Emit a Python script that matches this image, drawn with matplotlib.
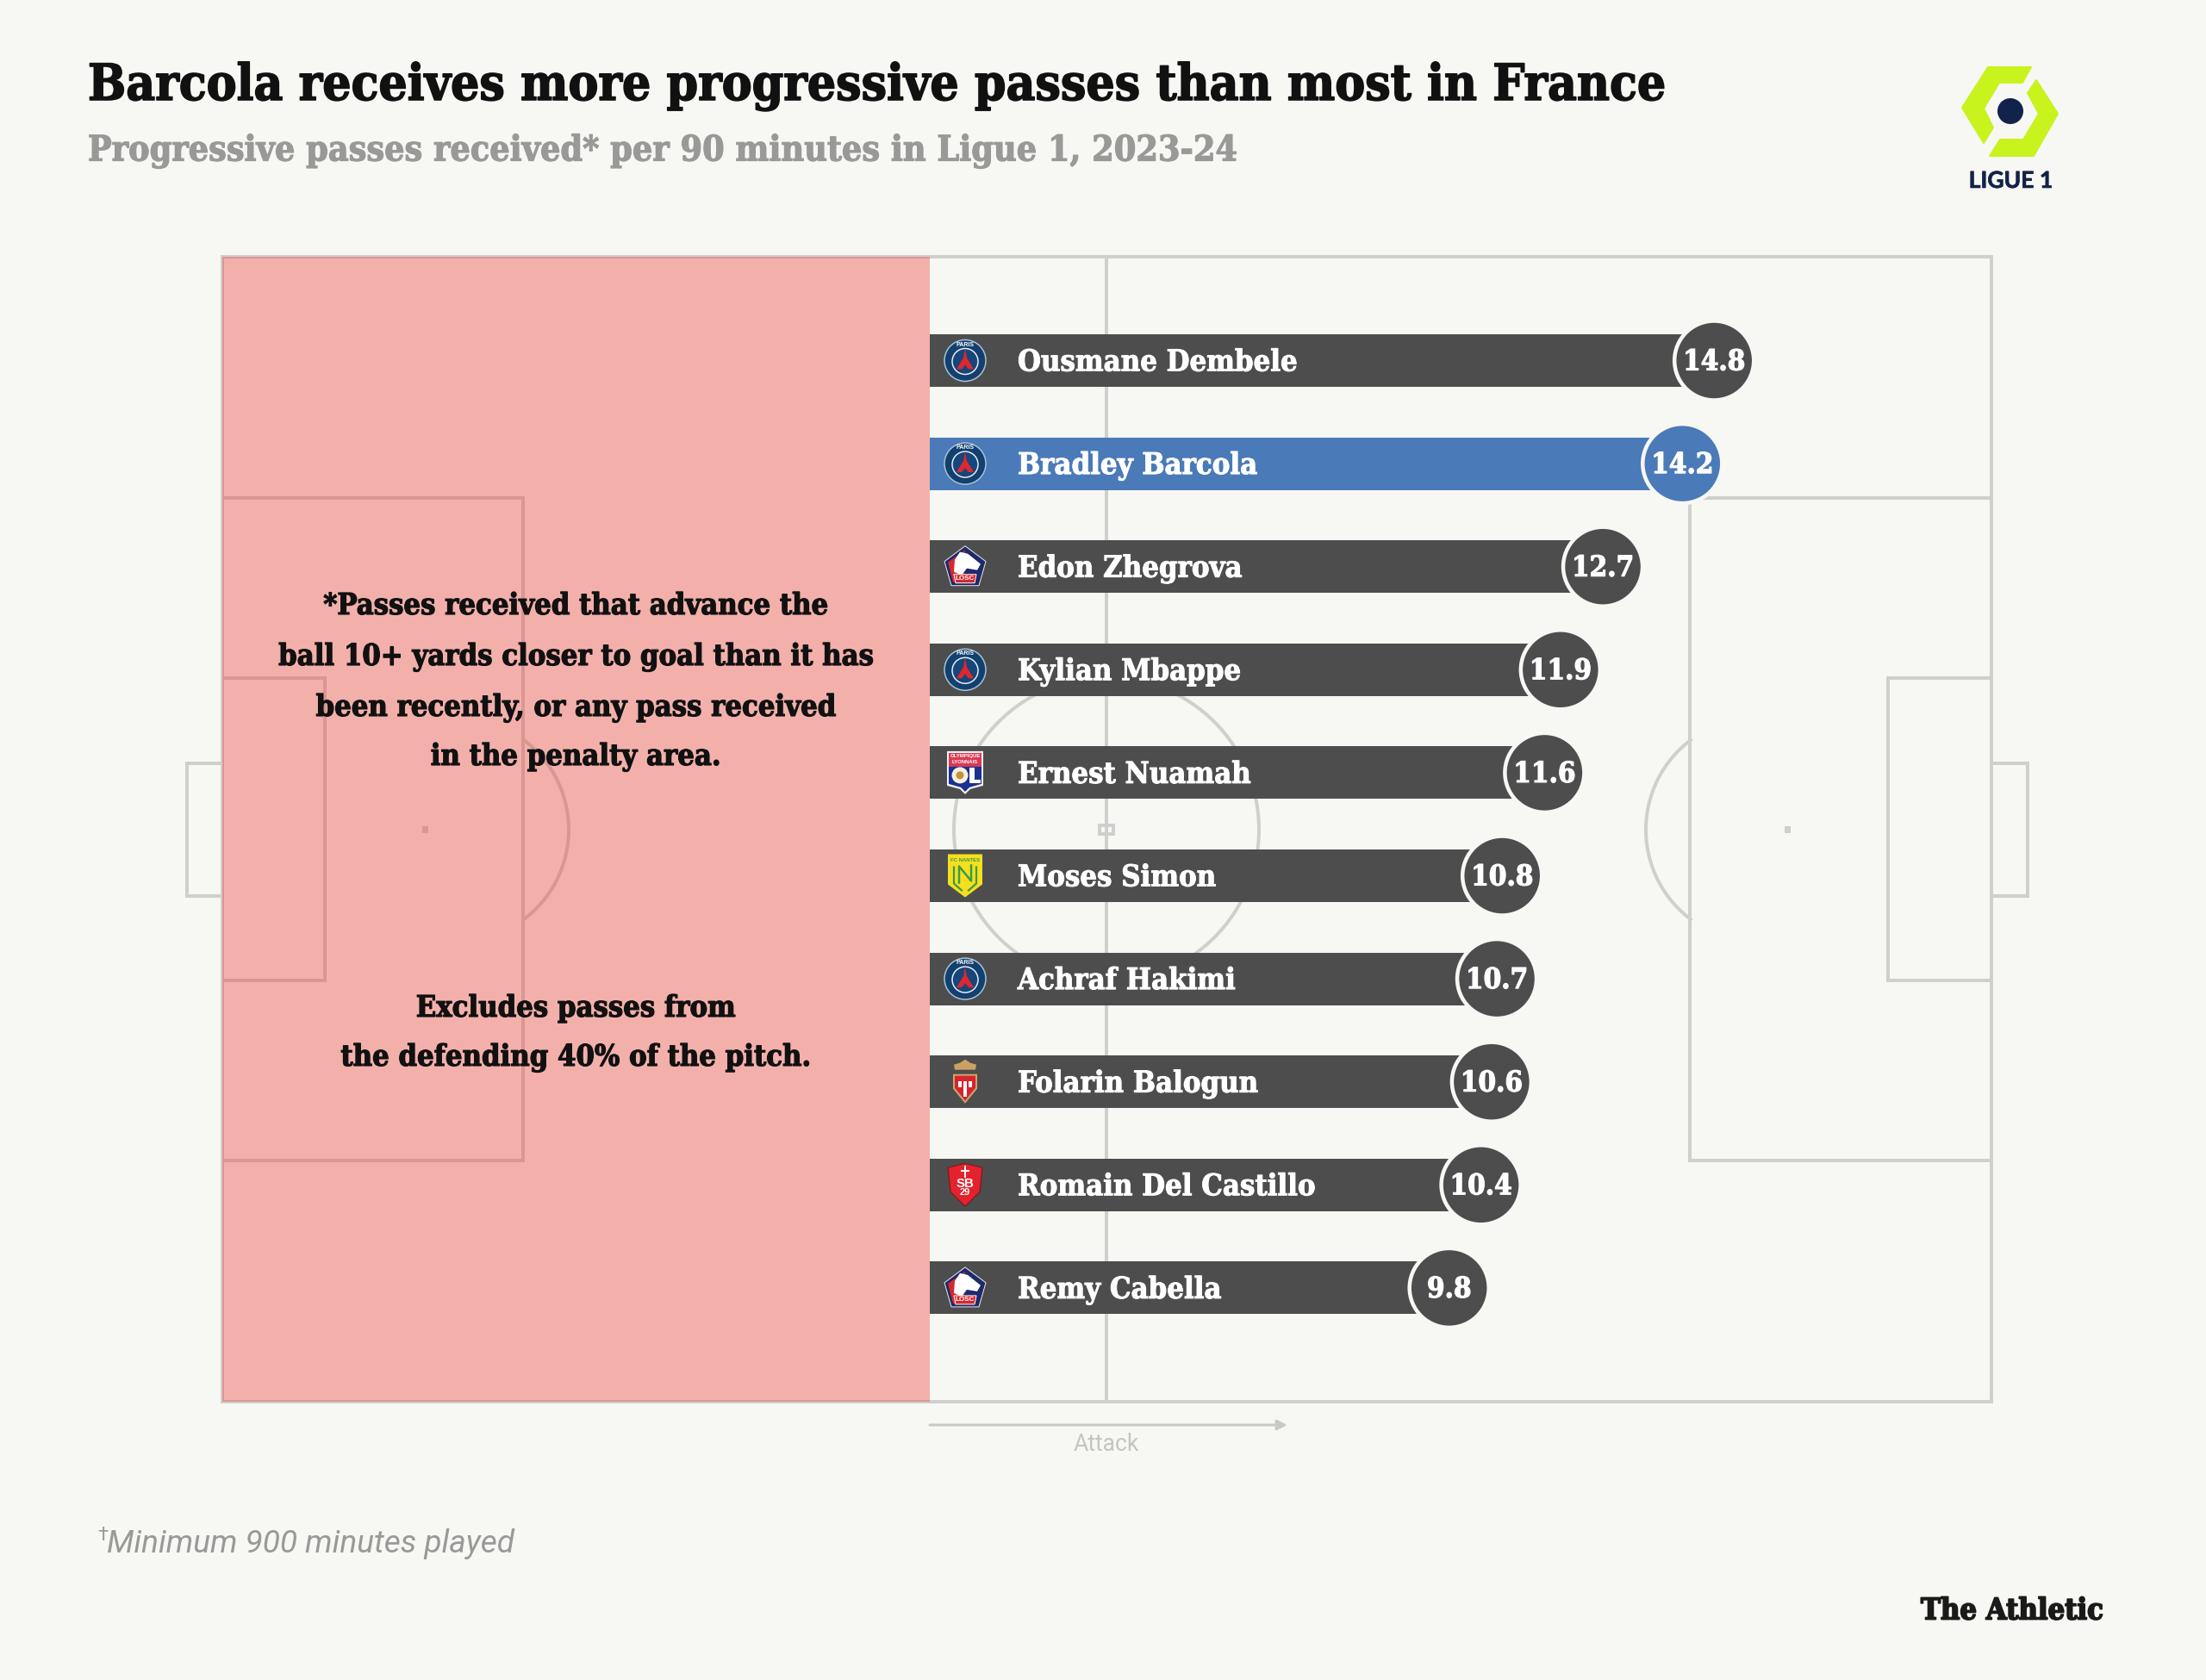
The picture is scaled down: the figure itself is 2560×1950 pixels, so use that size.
import numpy as np
import matplotlib
matplotlib.use("Agg")
import matplotlib.pyplot as plt
import matplotlib.patheffects as pe
from matplotlib.patches import Rectangle, Circle, Polygon, Arc, FancyArrowPatch

players = ["Ousmane Dembele", "Bradley Barcola", "Edon Zhegrova", "Kylian Mbappe", "Ernest Nuamah",
           "Moses Simon", "Achraf Hakimi", "Folarin Balogun", "Romain Del Castillo", "Remy Cabella"]
values = [14.8, 14.2, 12.7, 11.9, 11.6, 10.8, 10.7, 10.6, 10.4, 9.8]
clubs = ["psg", "psg", "lille", "psg", "lyon", "nantes", "psg", "monaco", "brest", "lille"]
highlight = "Bradley Barcola"

title = "Barcola receives more progressive passes than most in France"
subtitle = "Progressive passes received* per 90 minutes in Ligue 1, 2023-24"
note_one = ["*Passes received that advance the", "ball 10+ yards closer to goal than it has",
            "been recently, or any pass received", "in the penalty area."]
note_two = ["Excludes passes from", "the defending 40% of the pitch."]
footnote = "Minimum 900 minutes played"

BG = "#f7f7f3"
DARK = "#4d4d4d"
BLUE = "#4a7ab8"
LINE = "#cfcfcd"
SLAB = {"family": "DejaVu Serif", "stretch": "condensed", "weight": "bold"}
W, H = 2560, 1950
pt = lambda px: px * 0.72


def heavy(px, color):
    return {"path_effects": [pe.withStroke(linewidth=pt(px), foreground=color)]}


fig = plt.figure(figsize=(W / 100, H / 100), dpi=100, facecolor=BG)


def pixel_axes(z):
    a = fig.add_axes([0, 0, 1, 1], zorder=z)
    a.set_xlim(0, W)
    a.set_ylim(H, 0)
    a.axis("off")
    return a


base = pixel_axes(1)
lw = pt(4)


def box(x0, y0, x1, y1):
    base.add_patch(Rectangle((x0, y0), x1 - x0, y1 - y0, fill=False, ec=LINE, lw=lw))


box(258, 298, 2311, 1627)
box(258, 578, 607, 1347)
box(258, 787, 377, 1138)
box(217, 886, 258, 1040)
box(1961, 578, 2311, 1347)
box(2191, 787, 2311, 1138)
box(2311, 886, 2353, 1040)
base.plot([1284, 1284], [298, 1627], color=LINE, lw=lw)
base.add_patch(Circle((1284, 963), 177, fill=False, ec=LINE, lw=lw))
base.add_patch(Rectangle((1276, 958), 16, 10, fill=False, ec=LINE, lw=lw))
base.add_patch(Rectangle((490, 959), 7, 8, color=LINE, lw=0))
base.add_patch(Rectangle((2071, 959), 7, 8, color=LINE, lw=0))
base.add_patch(Arc((530, 963), 260, 260, theta1=-54, theta2=54, ec=LINE, lw=lw))
base.add_patch(Arc((2040, 963), 260, 260, theta1=126, theta2=234, ec=LINE, lw=lw))
base.add_patch(Rectangle((258, 298), 821, 1329, fc="#ee2c26", alpha=0.35, ec="none"))

# bars: x is the value, y the rank
PX_PER_UNIT = 61.5
bars = fig.add_axes([1079 / W, 0, (W - 1079) / W, 1], zorder=2)
bars.patch.set_alpha(0)
bars.axis("off")
bars.set_xlim(0, (W - 1079) / PX_PER_UNIT)
SPACING = 119.6
bars.set_ylim((H - 418.5) / SPACING, -418.5 / SPACING)
ranks = np.arange(len(players))
cols = [BLUE if p == highlight else DARK for p in players]
bars.barh(ranks, values, height=61 / SPACING, color=cols, linewidth=0)
bars.scatter(values, ranks, s=pt(92) ** 2, c=cols, edgecolors=BG, linewidths=pt(4.5), zorder=3, clip_on=False)
for r, (p, v) in enumerate(zip(players, values)):
    bars.annotate(f"{v}", (v, r), xytext=(0, pt(2)), textcoords="offset points", color="white", ha="center",
                  va="center_baseline", fontsize=pt(33), zorder=4, **SLAB, **heavy(1.2, "white"))
    bars.annotate(p, (0, r), xytext=(pt(102), pt(1)), textcoords="offset points", color="white",
                  ha="left", va="center_baseline", fontsize=pt(34.4), zorder=4, **SLAB, **heavy(1.0, "white"))

top = pixel_axes(3)


def poly(pts, cx, cy, **kw):
    top.add_patch(Polygon([(cx + a, cy + b) for a, b in pts], closed=True, **kw))


def tiny(cx, cy, s, px, color="white"):
    top.text(cx, cy, s, ha="center", va="center", color=color, fontsize=pt(px), family="Liberation Sans", weight="bold")


def psg(cx, cy):
    top.add_patch(Circle((cx, cy), 24, fc="#12406f", ec="#a9c3d6", lw=pt(1.5)))
    top.add_patch(Circle((cx, cy + 1), 15, fc="#16467a", ec="#e8eef2", lw=pt(1.5)))
    poly([(0, -14), (2, -3), (10, 10), (4, 10), (0, 5), (-4, 10), (-10, 10), (-2, -3)], cx, cy, fc="#e0262e", ec="none")
    tiny(cx, cy - 18.5, "PARIS", 7)


def lille(cx, cy):
    poly([(0, -24), (24, -6), (16, 22), (-16, 22), (-24, -6)], cx, cy, fc="#1d2a6b", ec="#e8e8e8", lw=pt(1))
    poly([(0, -19), (-20, -5), (-14, 18), (-2, 18)], cx, cy, fc="#d7282f", ec="none")
    poly([(-6, -17), (3, -15), (18, -3), (14, 4), (2, 2), (-4, 10), (-13, 6), (-12, -8)], cx, cy, fc="white", ec="none")
    poly([(-13, 9), (13, 9), (11, 19), (-11, 19)], cx, cy, fc="#d7282f", ec="white", lw=pt(1))
    tiny(cx, cy + 14, "LOSC", 8)


def lyon(cx, cy):
    poly([(-21, -25), (21, -25), (21, 15), (6, 19), (0, 25), (-6, 19), (-21, 15)], cx, cy, fc="#f3f3f3", ec="none")
    poly([(-19, -23), (19, -23), (19, -7), (-19, -7)], cx, cy, fc="#d93a54", ec="none")
    poly([(-19, -7), (19, -7), (19, 13), (5, 17), (0, 22), (-5, 17), (-19, 13)], cx, cy, fc="#1c2f92", ec="none")
    top.add_patch(Circle((cx - 6, cy + 3), 9.5, fc="#f5f0e0", ec="none"))
    top.add_patch(Circle((cx - 6, cy + 3), 4.5, fc="#c98f3a", ec="none"))
    poly([(5, -6), (11, -6), (11, 8), (18, 8), (18, 12), (5, 12)], cx, cy, fc="white", ec="none")
    tiny(cx, cy - 19, "OLYMPIQUE", 6)
    tiny(cx, cy - 12, "LYONNAIS", 6)


def nantes(cx, cy):
    poly([(-20, -25), (20, -25), (20, 10), (0, 25), (-20, 10)], cx, cy, fc="#f5df1e", ec="none")
    g = "#3b9b46"
    top.plot([cx - 13, cx - 13, cx - 4], [cy - 10, cy + 9, cy + 17], color=g, lw=pt(2.2))
    top.plot([cx + 13, cx + 13, cx + 4], [cy - 10, cy + 9, cy + 17], color=g, lw=pt(2.2))
    top.plot([cx - 7, cx - 7, cx + 7, cx + 7], [cy + 8, cy - 11, cy + 6, cy - 12], color=g, lw=pt(2.5))
    tiny(cx, cy - 18, "FC NANTES", 6, g)


def monaco(cx, cy):
    poly([(-14, -9), (14, -9), (14, 8), (0, 25), (-14, 8)], cx, cy, fc="#c9a76a", ec="none")
    poly([(-12, -7), (12, -7), (12, 7), (0, 22), (-12, 7)], cx, cy, fc="#d9232e", ec="none")
    for dx in (-6, 0, 6):
        top.add_patch(Rectangle((cx + dx - 1.7, cy - 1), 3.4, 18 - 1.7 * abs(dx), fc="white", ec="none"))
    poly([(-12, -14), (-13, -20), (-6, -22), (0, -26), (6, -22), (13, -20), (12, -14)], cx, cy, fc="#c9a263", ec="none")


def brest(cx, cy):
    poly([(-20, -20), (0, -25), (20, -20), (17, 8), (0, 25), (-17, 8)], cx, cy, fc="#e4222d", ec="#7a1a1e", lw=pt(1.2))
    top.plot([cx, cx], [cy - 21, cy - 9], color="white", lw=pt(2))
    top.plot([cx - 4, cx + 4], [cy - 16, cy - 16], color="white", lw=pt(2))
    tiny(cx, cy - 1, "SB", 15)
    tiny(cx, cy + 9, "29", 11)


CREST = {"psg": psg, "lille": lille, "lyon": lyon, "nantes": nantes, "monaco": monaco, "brest": brest}
for r, c in enumerate(clubs):
    CREST[c](1120, 418.5 + SPACING * r)

# Ligue 1 logo
LIME = "#c8f31d"
poly([(2307, 78), (2357, 78), (2347, 96), (2320, 96), (2302, 126), (2313, 148), (2302, 166), (2277, 125)], 0, 0,
     fc=LIME, ec=LIME, lw=pt(2), joinstyle="round")
poly([(2363, 93), (2388, 132), (2360, 181), (2309, 181), (2321, 162), (2348, 162), (2366, 132), (2353, 108)], 0, 0,
     fc=LIME, ec=LIME, lw=pt(2), joinstyle="round")
top.add_patch(Circle((2333, 129), 15, fc="#12224a", ec="none"))
top.text(2333.5, 210, "LIGUE 1", ha="center", va="center", color="#12224a", family="Lato", weight="bold",
         fontsize=pt(26.5), **heavy(0.6, "#12224a"))

# text
top.text(102, 94, title, ha="left", va="center_baseline", color="#111111", fontsize=pt(58.2), **SLAB, **heavy(1.6, "#111111"))
top.text(102, 171, subtitle, ha="left", va="center_baseline", color="#999997", fontsize=pt(40.9), **SLAB, **heavy(1.2, "#999997"))
for y, s in zip([700, 759, 818, 875], note_one):
    top.text(668, y, s, ha="center", va="center_baseline", color="#111111", fontsize=pt(34.3), **SLAB, **heavy(1.2, "#111111"))
for y, s in zip([1167, 1224], note_two):
    top.text(668, y, s, ha="center", va="center_baseline", color="#111111", fontsize=pt(34.3), **SLAB, **heavy(1.2, "#111111"))
top.add_patch(FancyArrowPatch((1079, 1654), (1494, 1654), arrowstyle="-|>", mutation_scale=pt(24),
                              color="#c9c9c7", lw=pt(3), shrinkA=0, shrinkB=0))
top.text(1284, 1677, "Attack", ha="center", va="center", color="#c4c4c2", family="Roboto", fontsize=pt(26.5))
top.text(113, 1782, "\u2020", ha="left", va="center", color="#999997", family="Roboto", fontsize=pt(22))
top.text(124, 1792, footnote, ha="left", va="center", color="#999997", family="Roboto", style="italic", fontsize=pt(37))
top.text(2229, 1870, "The Athletic", ha="left", va="center", color="#1a1a1a", fontsize=pt(34.3), **SLAB, **heavy(1.8, "#1a1a1a"))

fig.savefig("out.png", dpi=100, facecolor=BG)
